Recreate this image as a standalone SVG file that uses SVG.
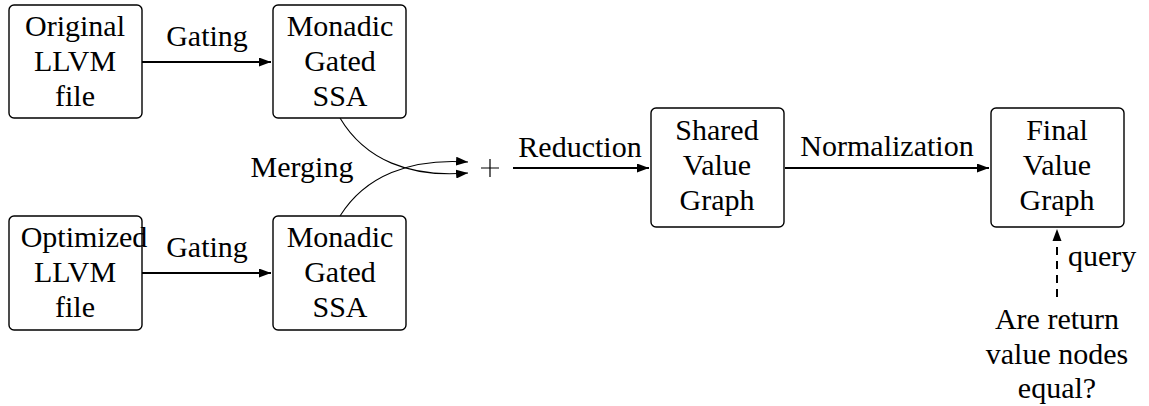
<svg xmlns="http://www.w3.org/2000/svg" width="1149" height="406" viewBox="0 0 1149 406">
  <defs>
    <marker id="tip" viewBox="0 0 12 9" refX="12" refY="4.5" markerWidth="12" markerHeight="9" markerUnits="userSpaceOnUse" orient="auto">
      <path d="M0 0 L12 4.5 L0 9 Z" fill="#000"/>
    </marker>
  </defs>

  <!-- arrows, the merge curves, the plus sign -->
  <g id="connectors" fill="none" stroke="#000">
    <path stroke-width="2" d="M142 62 H271" marker-end="url(#tip)"/>
    <path stroke-width="2" d="M142 273 H271" marker-end="url(#tip)"/>
    <path stroke-width="1.1" d="M340 118 C365 160 410 178 468 173" marker-end="url(#tip)"/>
    <path stroke-width="1.1" d="M340 216 C365 176 410 158 468 162" marker-end="url(#tip)"/>
    <path stroke-width="2" d="M513 168 H649" marker-end="url(#tip)"/>
    <path stroke-width="2" d="M785 168 H989" marker-end="url(#tip)"/>
    <path stroke-width="2" stroke-dasharray="8 6" d="M1057 297 V236"/>
    <path stroke="none" fill="#000" d="M1052.5 241 L1057 229 L1061.5 241 Z"/>
    <path stroke-width="1.2" d="M481 168 H499 M490 159 V177"/>
  </g>

  <g id="edge-labels">
    <text style="font-family:'Liberation Serif';font-size:30px;text-anchor:middle" x="207" y="46">Gating</text>
    <text style="font-family:'Liberation Serif';font-size:30px;text-anchor:middle" x="207" y="257">Gating</text>
    <text style="font-family:'Liberation Serif';font-size:30px;text-anchor:middle" x="302" y="177">Merging</text>
    <text style="font-family:'Liberation Serif';font-size:30px;text-anchor:middle" x="580" y="157">Reduction</text>
    <text style="font-family:'Liberation Serif';font-size:30px;text-anchor:middle" x="887" y="156">Normalization</text>
    <text style="font-family:'Liberation Serif';font-size:30px" x="1068" y="266">query</text>
  </g>

  <g id="original">
    <rect x="9" y="5" width="133" height="113" rx="5" fill="#fff" stroke="#000" stroke-width="1.4"/>
    <text style="font-family:'Liberation Serif';font-size:30px;text-anchor:middle" x="75" y="36">Original</text>
    <text style="font-family:'Liberation Serif';font-size:30px;text-anchor:middle" x="75" y="71">LLVM</text>
    <text style="font-family:'Liberation Serif';font-size:30px;text-anchor:middle" x="75" y="106">file</text>
  </g>

  <g id="optimized">
    <rect x="9" y="216" width="133" height="114" rx="5" fill="#fff" stroke="#000" stroke-width="1.4"/>
    <text style="font-family:'Liberation Serif';font-size:30px;text-anchor:middle" x="84" y="247">Optimized</text>
    <text style="font-family:'Liberation Serif';font-size:30px;text-anchor:middle" x="75" y="282">LLVM</text>
    <text style="font-family:'Liberation Serif';font-size:30px;text-anchor:middle" x="75" y="317">file</text>
  </g>

  <g id="mgsa-top">
    <rect x="273" y="5" width="133" height="113" rx="5" fill="#fff" stroke="#000" stroke-width="1.4"/>
    <text style="font-family:'Liberation Serif';font-size:30px;text-anchor:middle" x="340" y="36">Monadic</text>
    <text style="font-family:'Liberation Serif';font-size:30px;text-anchor:middle" x="340" y="71">Gated</text>
    <text style="font-family:'Liberation Serif';font-size:30px;text-anchor:middle" x="340" y="106">SSA</text>
  </g>

  <g id="mgsa-bottom">
    <rect x="273" y="216" width="133" height="114" rx="5" fill="#fff" stroke="#000" stroke-width="1.4"/>
    <text style="font-family:'Liberation Serif';font-size:30px;text-anchor:middle" x="340" y="247">Monadic</text>
    <text style="font-family:'Liberation Serif';font-size:30px;text-anchor:middle" x="340" y="282">Gated</text>
    <text style="font-family:'Liberation Serif';font-size:30px;text-anchor:middle" x="340" y="317">SSA</text>
  </g>

  <g id="shared">
    <rect x="651" y="108" width="133" height="119" rx="5" fill="#fff" stroke="#000" stroke-width="1.4"/>
    <text style="font-family:'Liberation Serif';font-size:30px;text-anchor:middle" x="717" y="140">Shared</text>
    <text style="font-family:'Liberation Serif';font-size:30px;text-anchor:middle" x="717" y="175">Value</text>
    <text style="font-family:'Liberation Serif';font-size:30px;text-anchor:middle" x="717" y="210">Graph</text>
  </g>

  <g id="final">
    <rect x="991" y="108" width="133" height="119" rx="5" fill="#fff" stroke="#000" stroke-width="1.4"/>
    <text style="font-family:'Liberation Serif';font-size:30px;text-anchor:middle" x="1057" y="140">Final</text>
    <text style="font-family:'Liberation Serif';font-size:30px;text-anchor:middle" x="1057" y="175">Value</text>
    <text style="font-family:'Liberation Serif';font-size:30px;text-anchor:middle" x="1057" y="210">Graph</text>
  </g>

  <g id="question">
    <text style="font-family:'Liberation Serif';font-size:30px;text-anchor:middle" x="1057" y="329">Are return</text>
    <text style="font-family:'Liberation Serif';font-size:30px;text-anchor:middle" x="1057" y="364">value nodes</text>
    <text style="font-family:'Liberation Serif';font-size:30px;text-anchor:middle" x="1057" y="398">equal?</text>
  </g>
</svg>
